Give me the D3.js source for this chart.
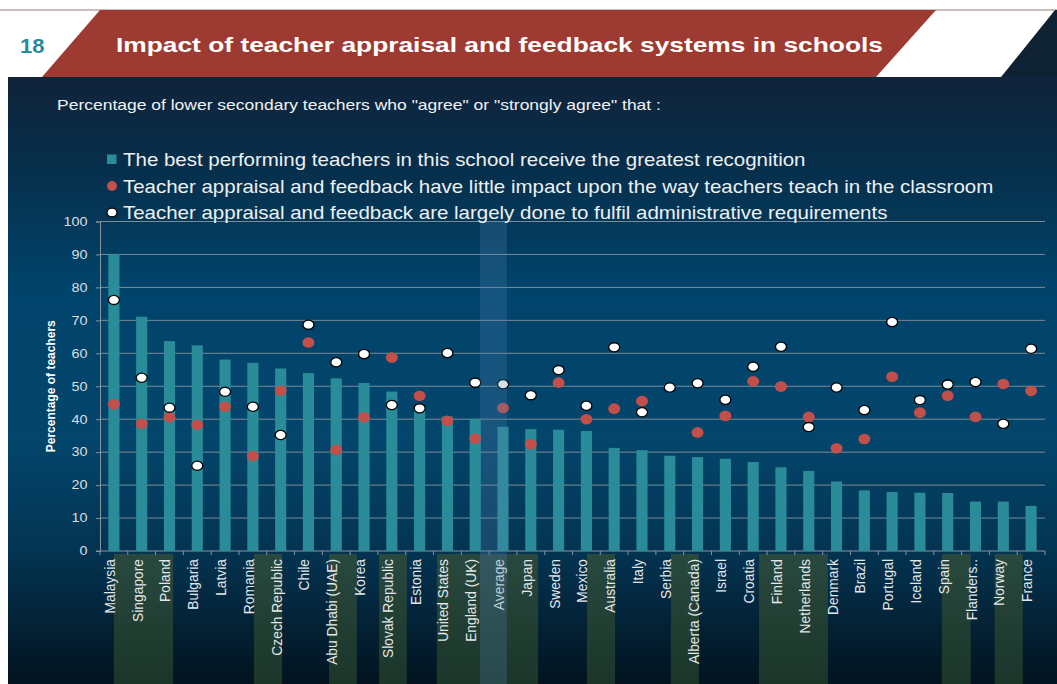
<!DOCTYPE html>
<html>
<head>
<meta charset="utf-8">
<script src="https://cdn.jsdelivr.net/npm/d3@7"></script>
<style>
  html, body { margin: 0; padding: 0; background: #fff; }
  svg { display: block; font-family: "Liberation Sans", Arial, sans-serif; }
</style>
</head>
<body>
<script>
// Teacher appraisal chart - bars + two dot series

const categories = ["Malaysia", "Singapore", "Poland", "Bulgaria", "Latvia", "Romania", "Czech Republic", "Chile",
    "Abu Dhabi (UAE)", "Korea", "Slovak Republic", "Estonia", "United States", "England (UK)", "Average", "Japan",
    "Sweden", "Mexico", "Australia", "Italy", "Serbia", "Alberta (Canada)", "Israel", "Croatia", "Finland",
    "Netherlands", "Denmark", "Brazil", "Portugal", "Iceland", "Spain", "Flanders..", "Norway", "France"];

// best performing teachers receive greatest recognition
const recognition = [90.0, 71.1, 63.7, 62.4, 58.1, 57.1, 55.4, 54.0, 52.4, 51.0,
    48.4, 43.0, 40.8, 40.1, 37.7, 37.0, 36.8, 36.4, 31.3, 30.6,
    28.9, 28.5, 28.0, 27.0, 25.4, 24.3, 21.1, 18.4, 17.9, 17.7,
    17.6, 15.0, 15.0, 13.7];

// little impact upon the way teachers teach
const littleImpact = [44.5, 38.6, 40.6, 38.3, 43.8, 28.8, 48.7, 63.3, 30.7, 40.6,
    58.7, 47.1, 39.5, 34.1, 43.4, 32.4, 51.1, 40.0, 43.2, 45.5,
    null, 36.0, 41.0, 51.5, 49.9, 40.7, 31.2, 34.0, 52.9, 42.0,
    47.1, 40.7, 50.7, 48.6];

// largely done to fulfil administrative requirements
const administrative = [76.2, 52.6, 43.5, 25.9, 48.3, 43.8, 35.2, 68.7, 57.3, 59.8,
    44.3, 43.3, 60.1, 51.1, 50.6, 47.3, 54.9, 44.1, 61.8, 42.1,
    49.6, 50.9, 45.9, 55.9, 62.0, 37.6, 49.6, 42.8, 69.5, 45.8,
    50.5, 51.3, 38.6, 61.4];

const yTicks = [0, 10, 20, 30, 40, 50, 60, 70, 80, 90, 100];

const legendLabels = [
    "The best performing teachers in this school receive the greatest recognition",
    "Teacher appraisal and feedback have little impact upon the way teachers teach in the classroom",
    "Teacher appraisal and feedback are largely done to fulfil administrative requirements"
];

// decorative green stripes behind the labels (in band units)
const labelStripes = [[0.5, 2.63], [5.54, 6.55], [8.24, 9.24], [10.04, 11.04], [12.12, 15.76],
    [17.52, 18.53], [20.54, 21.55], [23.71, 26.19], [30.29, 31.33], [32.19, 33.2]];

const W = 1057, H = 684;
const plotLeft = 100, plotRight = 1045, plotTop = 221.5, plotBottom = 551;
const stretch = 1.2; // the slide text is a bit wider than normal

const svg = d3.select("body").append("svg").attr("width", W).attr("height", H);
const defs = svg.append("defs");

const bg = defs.append("linearGradient").attr("id", "bg").attr("x1", 0).attr("y1", 0).attr("x2", 0).attr("y2", 1);
[[0, "#10233a"], [0.15, "#062f4b"], [0.35, "#01446b"], [0.6, "#03456b"], [0.78, "#033452"], [1, "#03131f"]]
    .forEach(s => bg.append("stop").attr("offset", s[0]).attr("stop-color", s[1]));

const sg = defs.append("linearGradient").attr("id", "stripe").attr("x1", 0).attr("y1", 0).attr("x2", 0).attr("y2", 1);
[[0, "#29493f"], [1, "#1b3529"]].forEach(s => sg.append("stop").attr("offset", s[0]).attr("stop-color", s[1]));

// header
svg.append("rect").attr("x", 0).attr("y", 0).attr("width", W).attr("height", H).attr("fill", "#fff");
svg.append("line").attr("x1", 0).attr("x2", W).attr("y1", 10).attr("y2", 10)
    .attr("stroke", "#b9a9a6").attr("stroke-width", 1.5);
svg.append("polygon").attr("points", "100,10 936,10 876,77 42,77").attr("fill", "#9d3b32");
svg.append("polygon").attr("points", "1055,10 1057,10 1057,77 1001,77").attr("fill", "#0f2233");
svg.append("text").attr("transform", "translate(20,53) scale(1.1,1)").attr("fill", "#2b8a9a")
    .attr("font-size", 20).attr("font-weight", "bold").text("18");
svg.append("text").attr("transform", "translate(116,52) scale(1.255,1)").attr("fill", "#fff")
    .attr("font-size", 21).attr("font-weight", "bold")
    .text("Impact of teacher appraisal and feedback systems in schools");

// panel
svg.append("rect").attr("x", 8).attr("y", 77).attr("width", W - 8).attr("height", H - 77).attr("fill", "url(#bg)");

svg.append("text").attr("transform", "translate(57,109.5) scale(1.25,1)").attr("fill", "#f2f2f2").attr("font-size", 14)
    .text("Percentage of lower secondary teachers who \"agree\" or \"strongly agree\" that :");

const x = d3.scaleBand().domain(categories).range([plotLeft, plotRight]).padding(0);
const y = d3.scaleLinear().domain([0, 100]).range([plotBottom, plotTop]);
const bw = x.bandwidth();
const cx = d => x(d) + bw / 2;

// stripes behind x labels
svg.append("g").selectAll("rect").data(labelStripes).join("rect")
    .attr("x", d => plotLeft + d[0] * bw).attr("width", d => (d[1] - d[0]) * bw)
    .attr("y", plotBottom + 3).attr("height", H - plotBottom - 3)
    .attr("fill", "url(#stripe)");

// gridlines
svg.append("g").selectAll("line").data(yTicks.filter(t => t > 0)).join("line")
    .attr("x1", plotLeft).attr("x2", plotRight).attr("y1", d => y(d)).attr("y2", d => y(d))
    .attr("stroke", "#7d8b96").attr("stroke-width", 1);

// y axis
const yAxis = svg.append("g").attr("transform", `translate(${plotLeft},0)`)
    .call(d3.axisLeft(y).tickValues(yTicks).tickSize(4).tickPadding(8));
yAxis.select(".domain").attr("stroke", "#8a949c");
yAxis.selectAll(".tick line").attr("stroke", "#8a949c");
yAxis.selectAll(".tick text").attr("fill", "#d8dde2").attr("font-size", 12)
    .attr("font-family", "Liberation Sans, Arial, sans-serif")
    .attr("x", null).attr("transform", `translate(-12.5,0) scale(${stretch},1)`);

svg.append("text").attr("transform", `translate(55,${(plotTop + plotBottom) / 2}) rotate(-90)`)
    .attr("text-anchor", "middle").attr("fill", "#fff").attr("font-size", 12).attr("font-weight", "bold")
    .text("Percentage of teachers");

// x axis with ticks at band edges
const xg = svg.append("g");
xg.append("line").attr("x1", plotLeft - 4).attr("x2", plotRight).attr("y1", plotBottom).attr("y2", plotBottom)
    .attr("stroke", "#8a949c");
xg.selectAll("line.tk").data(d3.range(categories.length + 1)).join("line").attr("class", "tk")
    .attr("x1", i => plotLeft + i * bw).attr("x2", i => plotLeft + i * bw)
    .attr("y1", plotBottom).attr("y2", plotBottom + 4).attr("stroke", "#8a949c");
xg.selectAll("text").data(categories).join("text")
    .attr("transform", d => `translate(${cx(d) + 1},${plotBottom + 8}) rotate(-90)`)
    .attr("text-anchor", "end").attr("fill", "#e4e8ea").attr("font-size", 13.8)
    .text(d => d);

// bars
const barW = bw * 0.4;
svg.append("g").selectAll("rect").data(categories).join("rect")
    .attr("x", d => cx(d) - barW / 2).attr("width", barW)
    .attr("y", (d, i) => y(recognition[i])).attr("height", (d, i) => y(0) - y(recognition[i]))
    .attr("fill", "#2a8c98");

// red dots
svg.append("g").selectAll("ellipse").data(categories.filter((d, i) => littleImpact[i] != null)).join("ellipse")
    .attr("cx", d => cx(d)).attr("cy", d => y(littleImpact[categories.indexOf(d)]))
    .attr("rx", 6).attr("ry", 5.3).attr("fill", "#c24f4a");

// white dots
svg.append("g").selectAll("ellipse").data(categories).join("ellipse")
    .attr("cx", d => cx(d)).attr("cy", (d, i) => y(administrative[i]))
    .attr("rx", 5.5).attr("ry", 4.6).attr("fill", "#fff").attr("stroke", "#000").attr("stroke-width", 1.3);

// average highlight
svg.append("rect").attr("x", x("Average") - 0.33 * bw).attr("width", 0.97 * bw)
    .attr("y", plotTop).attr("height", H - plotTop)
    .attr("fill", "rgba(80,130,180,0.26)");

// legend
const lg = svg.append("g").attr("transform", "translate(112,0)");
const rows = [159.5, 186, 212.5];
lg.append("rect").attr("x", -5).attr("y", rows[0] - 5).attr("width", 9.5).attr("height", 9.5).attr("fill", "#2a8c98");
lg.append("circle").attr("cx", 0).attr("cy", rows[1]).attr("r", 5).attr("fill", "#c24f4a");
lg.append("ellipse").attr("cx", 0).attr("cy", rows[2]).attr("rx", 5).attr("ry", 4.3)
    .attr("fill", "#fff").attr("stroke", "#000").attr("stroke-width", 1.2);
lg.selectAll("text").data(legendLabels).join("text")
    .attr("transform", (d, i) => `translate(11,${rows[i] + 6.5}) scale(1.107,1)`)
    .attr("fill", "#eef0f2").attr("font-size", 18.5)
    .text(d => d);
</script>
</body>
</html>
